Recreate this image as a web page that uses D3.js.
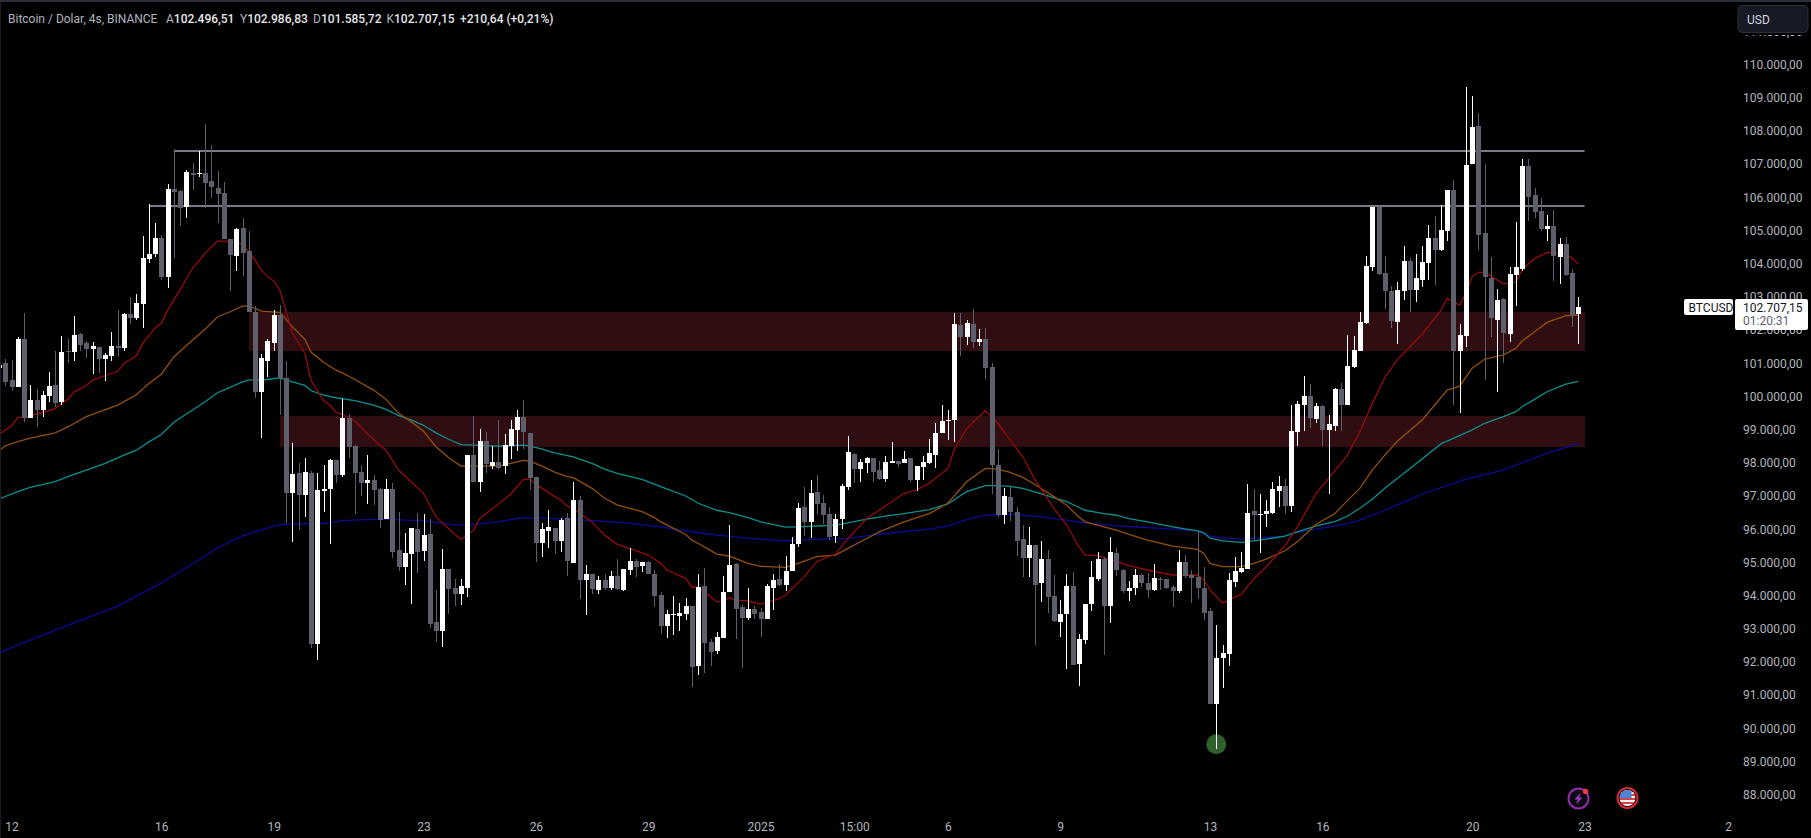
<!DOCTYPE html>
<html>
<head>
<meta charset="utf-8">
<title>BTCUSD 4s</title>
<script src="https://cdnjs.cloudflare.com/ajax/libs/d3/7.8.5/d3.min.js"></script>
<style>
  html, body { margin: 0; padding: 0; background: #000; overflow: hidden; }
  svg { display: block; font-family: Roboto, sans-serif; }
</style>
</head>
<body>
<div id="chart"></div>
<script>
// candle values, USD thousands, 4h bars
let opens = [
  100.85,101.00,100.49,100.28,101.73,99.35,99.89,99.59,100.01,100.34,
  99.83,101.36,101.33,101.88,101.60,101.42,101.48,101.12,101.21,101.51,
  101.45,102.48,102.36,102.79,104.14,104.29,104.77,103.60,106.25,106.19,
  105.71,106.73,106.70,106.73,106.49,106.28,106.13,104.74,104.23,105.07,
  104.38,102.54,100.13,101.06,101.60,102.45,100.55,97.09,97.69,97.03,
  97.69,92.54,97.15,97.21,98.08,97.63,99.35,98.50,97.72,97.39,
  97.48,97.21,96.30,97.21,95.37,94.86,95.25,96.00,95.34,95.85,
  93.20,92.93,94.80,94.23,94.04,94.23,98.23,97.42,98.65,97.90,
  98.02,97.90,98.50,98.98,99.38,98.89,97.57,95.58,95.94,96.03,
  95.64,96.33,94.98,96.88,94.47,94.65,94.17,94.47,94.23,94.59,
  94.17,94.77,95.04,94.89,95.01,94.65,94.01,93.08,93.41,93.38,
  93.44,93.68,91.88,94.29,92.60,92.33,92.72,94.10,94.95,93.65,
  93.32,93.59,93.50,93.29,94.23,94.50,94.32,94.74,95.55,96.66,
  96.21,97.12,96.79,96.45,95.79,96.30,97.27,98.26,97.81,97.99,
  98.14,97.78,97.51,97.99,98.05,97.99,98.14,97.48,97.87,97.99,
  98.23,98.89,99.26,99.29,102.15,101.79,102.18,101.64,101.73,100.88,
  97.93,96.42,96.97,96.51,95.70,95.13,95.52,94.38,95.10,93.98,
  93.20,93.44,94.29,91.94,92.66,93.74,94.50,95.10,93.68,95.28,
  94.77,94.13,94.23,94.62,94.38,94.17,94.50,94.50,94.26,94.13,
  95.01,94.62,94.56,94.23,93.53,90.73,92.12,92.24,94.41,94.71,
  94.80,96.54,96.42,96.45,96.48,97.15,97.30,96.70,98.92,99.74,
  100.01,99.32,99.71,98.98,99.10,100.22,99.74,100.88,101.36,102.21,
  103.90,105.70,103.72,103.17,102.24,103.17,104.08,103.20,103.51,104.02,
  104.77,104.41,104.98,106.22,101.37,101.82,107.00,108.14,104.92,103.57,
  102.30,102.93,101.88,103.66,103.84,106.94,106.07,105.58,105.04,105.13,
  104.20,104.59,103.72,102.4965
];
let closes = [
  100.94,100.43,100.28,101.73,99.36,99.89,99.59,100.04,100.31,99.80,
  101.33,101.33,101.85,101.54,101.42,101.51,101.12,101.24,101.51,101.45,
  102.48,102.36,102.82,104.17,104.29,104.77,103.60,106.25,106.16,105.68,
  106.76,106.67,106.73,106.43,106.31,106.10,104.74,104.26,105.04,104.32,
  102.54,100.13,101.15,101.67,102.45,100.55,97.09,97.66,97.03,97.72,
  92.54,97.18,97.21,98.08,97.63,99.35,98.47,97.69,97.39,97.48,
  97.18,96.27,97.21,95.31,94.86,95.28,96.03,95.31,95.82,93.14,
  92.93,94.80,94.20,94.04,94.29,98.23,97.42,98.65,97.96,98.02,
  97.84,98.53,99.01,99.38,98.92,97.54,95.58,96.00,96.06,95.64,
  96.27,95.04,96.88,94.47,94.65,94.20,94.47,94.23,94.59,94.20,
  94.80,95.04,94.86,95.01,94.65,93.98,93.08,93.44,93.44,93.47,
  93.68,91.85,94.26,92.57,92.30,92.75,94.10,94.92,93.59,93.32,
  93.59,93.44,93.29,94.29,94.47,94.32,94.74,95.55,96.63,96.21,
  97.09,96.76,96.42,95.76,96.30,97.30,98.32,97.81,98.02,98.14,
  97.72,97.51,98.02,98.05,97.96,98.11,97.48,97.90,98.02,98.29,
  98.89,99.26,99.29,102.18,101.79,102.21,101.64,101.73,100.85,97.93,
  96.42,97.00,96.51,95.64,95.13,95.52,94.32,95.10,93.95,93.23,
  93.44,94.29,91.91,92.69,93.74,94.56,95.10,93.68,95.31,94.77,
  94.13,94.23,94.62,94.38,94.17,94.53,94.47,94.23,94.13,95.01,
  94.59,94.53,94.23,93.47,90.73,92.12,92.27,94.47,94.74,94.83,
  96.48,96.42,96.45,96.54,97.21,97.30,96.70,98.95,99.77,100.01,
  99.35,99.71,98.98,99.17,100.22,99.74,100.91,101.39,102.24,103.93,
  105.70,103.69,103.17,102.27,103.20,104.08,103.20,103.57,104.05,104.77,
  104.41,105.01,106.22,101.37,101.85,106.97,108.11,104.86,103.60,102.36,
  102.90,101.91,103.69,103.90,106.94,106.01,105.55,105.04,105.13,104.23,
  104.59,103.66,102.45,102.7072
];
let highs = [
  100.94,101.14,101.09,101.78,102.51,100.34,100.22,100.16,100.73,101.36,
  101.82,101.73,102.42,101.91,101.67,101.63,101.48,101.30,101.94,102.60,
  102.50,103.00,103.09,104.83,105.80,105.22,104.86,106.40,107.45,106.22,
  106.82,107.03,107.39,108.21,107.57,106.79,106.46,104.74,105.07,105.37,
  104.98,102.72,101.27,101.73,102.60,102.75,101.06,98.59,97.99,98.14,
  97.75,97.69,97.93,98.11,98.08,99.92,99.47,98.53,97.93,98.23,
  97.63,97.24,97.51,97.39,96.51,95.88,96.03,96.48,96.45,96.30,
  94.17,95.40,94.80,94.50,94.50,98.23,99.41,99.01,98.92,98.50,
  99.29,98.86,99.29,99.59,99.89,98.89,97.57,96.18,96.57,96.03,
  96.33,96.48,97.42,97.00,94.92,94.65,94.59,94.65,94.74,95.10,
  94.80,95.43,95.10,95.01,95.04,94.77,94.10,93.56,93.98,93.77,
  93.92,93.68,94.65,94.83,92.69,92.90,94.59,96.12,94.98,93.74,
  94.23,93.68,93.62,94.35,94.65,94.95,95.19,95.76,96.79,97.27,
  97.48,97.63,97.03,96.67,96.45,97.36,98.80,98.29,98.11,98.17,
  98.14,98.05,98.20,98.62,98.05,98.35,98.14,97.90,98.20,98.71,
  99.20,99.74,99.59,102.51,102.51,102.30,102.63,102.03,102.06,101.00,
  98.41,97.24,97.27,96.67,96.12,96.06,95.52,95.64,95.37,94.62,
  93.86,94.65,94.71,92.84,93.74,95.04,95.31,95.16,95.76,95.43,
  94.80,94.44,94.80,94.65,94.68,94.95,94.56,94.50,94.32,95.37,
  95.22,94.77,95.91,94.86,93.62,93.11,92.51,94.68,95.16,95.31,
  97.36,97.21,97.06,96.88,97.42,97.60,97.51,99.74,99.86,100.61,
  100.37,99.80,99.74,99.44,100.25,100.40,101.85,101.82,102.54,104.23,
  105.70,105.73,104.23,103.33,103.45,104.53,104.17,104.29,104.53,105.16,
  105.43,105.77,106.22,106.52,102.18,109.32,109.05,108.54,107.00,104.20,
  103.23,102.96,103.90,105.25,107.15,107.15,106.28,105.98,105.46,105.61,
  104.77,104.80,103.84,102.9868
];
let lows = [
  100.85,100.31,100.16,100.28,99.23,99.35,99.07,99.38,99.83,99.68,
  99.74,101.00,101.06,101.36,101.15,100.67,100.70,100.46,101.06,101.18,
  101.38,102.18,102.30,102.06,104.02,104.20,103.51,103.27,104.17,105.13,
  105.38,106.22,106.61,105.68,105.98,105.23,104.74,103.18,103.78,103.63,
  102.54,99.95,98.74,100.58,101.36,99.44,96.18,95.61,95.97,96.36,
  92.42,92.06,96.51,95.55,97.39,97.57,98.14,96.45,97.00,96.76,
  96.73,96.03,96.30,95.13,94.74,94.32,93.74,94.68,95.04,93.02,
  92.60,92.45,93.44,93.68,93.71,93.95,97.42,97.12,97.69,97.81,
  97.81,97.66,98.11,98.35,98.41,97.18,95.01,95.16,95.43,95.25,
  95.31,94.59,94.98,93.89,93.41,94.04,94.04,94.17,94.17,94.17,
  94.14,94.62,94.56,94.71,94.65,93.65,92.84,92.72,92.81,92.93,
  93.26,91.24,91.61,91.67,91.88,92.24,92.72,94.10,92.69,91.82,
  93.26,93.29,92.75,93.29,93.56,94.29,94.13,94.74,95.46,95.79,
  95.73,96.45,96.15,95.67,95.58,96.00,97.18,97.39,97.42,97.69,
  97.42,97.48,97.42,97.99,97.87,97.99,97.42,97.15,97.48,97.96,
  97.84,98.89,98.68,98.62,101.21,101.54,101.45,101.51,100.52,97.06,
  96.36,96.15,96.24,95.19,94.56,94.56,92.51,93.80,93.47,93.20,
  92.75,91.79,91.91,91.27,92.54,93.53,94.44,92.21,93.17,94.59,
  94.07,93.83,94.01,94.26,93.92,94.14,94.17,94.20,93.65,94.07,
  94.53,93.77,93.89,93.26,90.73,89.38,91.21,91.88,94.26,94.68,
  94.80,95.67,95.28,96.06,96.45,96.67,96.45,96.51,98.50,98.95,
  99.04,99.20,98.50,97.06,98.95,98.95,99.74,100.85,101.36,102.18,
  103.78,103.66,102.63,102.06,101.58,102.90,102.54,102.84,103.30,103.51,
  103.36,104.38,104.68,99.74,99.50,101.49,107.00,104.41,100.49,101.79,
  100.13,101.01,101.64,102.72,103.78,105.28,105.37,104.98,104.68,103.48,
  103.39,103.62,102.09,101.5857
];

// moving averages as [bar index, price]
let maRed = [[0,98.86],[2,99.11],[3,99.37],[4,99.37],[6,99.47],[9,99.63],[10,99.79],[11,99.91],[12,100.13],[14,100.33],[15,100.49],[17,100.63],[19,100.75],[20,100.99],[22,101.22],[23,101.59],[25,102.07],[26,102.20],[27,102.60],[29,103.21],[31,103.86],[33,104.31],[35,104.68],[37,104.68],[39,104.59],[41,104.11],[42,103.81],[43,103.61],[44,103.48],[45,103.19],[46,102.55],[47,101.90],[49,101.30],[50,100.47],[52,99.87],[53,99.74],[54,99.51],[55,99.47],[57,99.26],[59,98.88],[61,98.53],[62,98.38],[64,97.78],[66,97.43],[68,97.08],[70,96.37],[73,95.85],[74,95.69],[76,95.97],[77,96.32],[80,96.76],[82,97.06],[84,97.50],[85,97.50],[87,97.23],[89,96.98],[90,96.88],[91,96.70],[92,96.62],[95,96.22],[97,95.82],[99,95.55],[101,95.42],[104,95.22],[106,94.97],[107,94.77],[110,94.52],[111,94.25],[112,94.25],[115,93.81],[116,93.83],[117,93.94],[118,93.86],[120,93.84],[122,93.74],[125,93.91],[126,94.01],[129,94.57],[131,95.02],[134,95.25],[136,95.72],[139,96.32],[141,96.57],[145,97.08],[147,97.18],[149,97.38],[152,97.83],[153,98.38],[155,99.03],[158,99.57],[160,99.19],[161,98.93],[164,98.18],[166,97.48],[169,96.62],[171,96.14],[173,95.47],[174,95.22],[176,95.20],[179,95.02],[181,94.90],[184,94.77],[188,94.62],[192,94.62],[193,94.47],[194,94.17],[196,93.78],[199,94.04],[201,94.50],[203,94.87],[206,95.50],[208,96.07],[211,97.08],[213,97.53],[216,98.23],[218,98.93],[220,99.79],[222,100.57],[224,101.11],[225,101.30],[228,101.88],[231,102.60],[232,102.95],[234,102.75],[235,103.10],[236,103.61],[237,103.74],[238,103.74],[240,103.51],[241,103.39],[243,103.44],[244,103.81],[246,104.16],[248,104.33],[249,104.33],[251,104.29],[252,104.16],[253,103.99]];
let maOrange = [[0,98.36],[1,98.51],[3,98.64],[5,98.74],[9,98.90],[11,99.08],[14,99.39],[19,99.74],[22,100.05],[24,100.39],[26,100.67],[28,101.19],[31,101.70],[33,102.02],[35,102.40],[37,102.55],[39,102.72],[40,102.73],[42,102.57],[45,102.53],[47,102.10],[49,101.72],[50,101.33],[52,101.03],[54,100.79],[55,100.71],[57,100.51],[60,100.19],[62,99.91],[64,99.49],[66,99.24],[68,98.95],[70,98.48],[72,98.16],[74,97.90],[76,97.90],[80,97.90],[82,97.98],[84,98.07],[85,98.05],[87,97.90],[89,97.72],[91,97.58],[92,97.55],[95,97.23],[97,96.93],[99,96.73],[103,96.53],[105,96.35],[106,96.22],[110,95.84],[111,95.67],[112,95.57],[115,95.25],[117,95.19],[120,94.97],[122,94.88],[126,94.85],[128,94.97],[131,95.17],[134,95.22],[136,95.42],[139,95.72],[141,95.92],[145,96.22],[149,96.47],[152,96.78],[155,97.43],[158,97.83],[160,97.81],[162,97.71],[164,97.56],[166,97.34],[169,96.98],[171,96.73],[173,96.37],[174,96.22],[177,96.07],[179,95.97],[181,95.84],[184,95.67],[188,95.49],[192,95.39],[193,95.27],[194,94.97],[196,94.87],[199,94.87],[201,94.97],[203,95.10],[206,95.35],[208,95.62],[211,96.15],[214,96.47],[216,96.86],[218,97.23],[220,97.78],[222,98.23],[224,98.65],[228,99.29],[232,100.19],[234,100.31],[236,100.85],[238,101.12],[241,101.25],[243,101.45],[244,101.67],[246,101.95],[248,102.23],[251,102.43],[253,102.45]];
let maTeal = [[0,96.91],[3,97.13],[5,97.26],[9,97.43],[11,97.58],[14,97.78],[17,97.98],[20,98.23],[22,98.38],[24,98.63],[26,98.85],[28,99.22],[31,99.59],[33,99.84],[35,100.11],[37,100.27],[39,100.44],[40,100.49],[43,100.51],[45,100.56],[47,100.44],[49,100.33],[50,100.17],[52,100.04],[54,99.96],[57,99.87],[60,99.74],[62,99.61],[64,99.42],[66,99.29],[68,99.13],[70,98.90],[72,98.71],[74,98.55],[76,98.53],[80,98.50],[84,98.53],[85,98.51],[87,98.41],[89,98.30],[92,98.18],[95,97.98],[97,97.81],[99,97.68],[103,97.50],[106,97.28],[110,97.00],[112,96.78],[115,96.57],[117,96.50],[120,96.35],[122,96.22],[126,96.06],[128,96.07],[133,96.11],[135,96.15],[139,96.30],[142,96.39],[145,96.47],[149,96.59],[152,96.76],[155,97.13],[158,97.31],[160,97.31],[162,97.29],[164,97.23],[167,97.06],[171,96.83],[173,96.66],[174,96.57],[177,96.47],[179,96.42],[181,96.32],[184,96.22],[188,96.07],[192,95.95],[193,95.89],[194,95.73],[196,95.65],[199,95.60],[201,95.65],[203,95.70],[206,95.79],[208,95.92],[211,96.10],[214,96.23],[216,96.39],[218,96.63],[220,96.90],[222,97.23],[224,97.53],[231,98.57],[236,98.99],[238,99.19],[241,99.39],[243,99.54],[244,99.69],[246,99.91],[248,100.14],[251,100.37],[253,100.45]];
let maBlue = [[0,92.28],[9,92.96],[19,93.68],[26,94.38],[32,95.07],[35,95.44],[39,95.80],[41,95.92],[44,96.09],[45,96.14],[49,96.17],[52,96.17],[55,96.26],[59,96.29],[62,96.30],[65,96.27],[68,96.26],[70,96.20],[73,96.13],[76,96.14],[80,96.23],[84,96.35],[87,96.33],[92,96.29],[95,96.26],[99,96.21],[103,96.14],[106,96.07],[110,95.95],[112,95.90],[115,95.82],[120,95.73],[126,95.65],[131,95.69],[136,95.72],[142,95.87],[149,96.00],[152,96.09],[155,96.29],[158,96.42],[162,96.45],[167,96.37],[171,96.27],[174,96.19],[179,96.10],[184,96.05],[188,96.00],[192,95.95],[194,95.79],[196,95.73],[199,95.71],[203,95.75],[206,95.79],[208,95.91],[211,96.00],[214,96.10],[216,96.17],[218,96.27],[222,96.57],[224,96.73],[228,97.06],[235,97.51],[241,97.78],[248,98.29],[253,98.58]];

// drawn levels: [first bar, price] and zones: [first bar, top price, bottom price]
let levelLines = [[28,107.39],[24,105.74]];
let zones = [[40,102.54,101.37],[45,99.41,98.47]];
let levelEndBar = 254;

let priceTicks = d3.range(88, 112);
let timeTickBars = [2,26,44,68,86,104,122,137,152,170,194,212,236,254,277];
let timeTickLabels = ['12','16','19','23','26','29','2025','15:00','6','9','13','16','20','23','2'];

let markerBar = 195;
let markerPrice = 89.52;

// header texts
let headerTitle = 'Bitcoin / Dolar, 4s, BINANCE';
let headerValues = [['A','102.496,51'],['Y','102.986,83'],['D','101.585,72'],['K','102.707,15']];
let headerChange = '+210,64 (+0,21%)';

// svg setup
let svgWidth = 1811;
let svgHeight = 838;

let svg = d3.select('#chart').append('svg')
  .attr('width', svgWidth)
  .attr('height', svgHeight);

svg.append('rect').attr('width', svgWidth).attr('height', svgHeight).attr('fill', '#000');

// scales, calibrated on tick labels and first/last candle
let x = d3.scaleLinear().domain([0, 253]).range([-0.94, 1578.3]);
let y = d3.scaleLinear().domain([88, 110]).range([794.7, 64.5]);

let colorUp = '#ffffff';
let colorDown = '#5d606b';
let labelColor = '#b2b5be';

let candles = opens.map((o, i) => ({ i: i, o: o, h: highs[i], l: lows[i], c: closes[i] }));

// zones
svg.append('g').selectAll('rect')
  .data(zones)
  .enter()
  .append('rect')
  .attr('x', d => Math.round(x(d[0])))
  .attr('y', d => Math.round(y(d[1])))
  .attr('width', d => Math.round(x(levelEndBar)) - Math.round(x(d[0])))
  .attr('height', d => Math.round(y(d[2])) - Math.round(y(d[1])))
  .attr('fill', '#300d10');

// moving averages
let maLine = d3.line().x(d => x(d[0])).y(d => y(d[1]));
let maSeries = [
  { data: maBlue, color: '#0b0b96' },
  { data: maTeal, color: '#0c8f8f' },
  { data: maOrange, color: '#94500c' },
  { data: maRed, color: '#940c0c' }
];
svg.append('g').selectAll('path')
  .data(maSeries)
  .enter()
  .append('path')
  .attr('d', d => maLine(d.data))
  .attr('fill', 'none')
  .attr('stroke', d => d.color)
  .attr('stroke-width', 1.3);

// horizontal levels
svg.append('g').selectAll('line')
  .data(levelLines)
  .enter()
  .append('line')
  .attr('x1', d => x(d[0]))
  .attr('x2', x(levelEndBar))
  .attr('y1', d => Math.round(y(d[1])))
  .attr('y2', d => Math.round(y(d[1])))
  .attr('stroke', '#787b86')
  .attr('stroke-width', 2);

// green marker under the low wick
svg.append('circle')
  .attr('cx', x(markerBar))
  .attr('cy', y(markerPrice))
  .attr('r', 10)
  .attr('fill', '#2f5f2c');

// candles
let candleGroup = svg.append('g').attr('shape-rendering', 'crispEdges');

candleGroup.selectAll('rect.wick')
  .data(candles)
  .enter()
  .append('rect')
  .classed('wick', true)
  .attr('x', d => Math.round(x(d.i)))
  .attr('y', d => Math.round(y(d.h)))
  .attr('width', 1)
  .attr('height', d => Math.max(1, Math.round(y(d.l)) - Math.round(y(d.h))))
  .attr('fill', d => d.c >= d.o ? colorUp : colorDown);

candleGroup.selectAll('rect.body')
  .data(candles)
  .enter()
  .append('rect')
  .classed('body', true)
  .attr('x', d => Math.round(x(d.i)) - 2)
  .attr('y', d => Math.round(y(Math.max(d.o, d.c))))
  .attr('width', 5)
  .attr('height', d => Math.max(1, Math.round(y(Math.min(d.o, d.c))) - Math.round(y(Math.max(d.o, d.c)))))
  .attr('fill', d => d.c >= d.o ? colorUp : colorDown);

// frame edges
svg.append('rect').attr('width', svgWidth).attr('height', 2).attr('fill', '#2a2e39');
svg.append('rect').attr('y', 2).attr('width', 1).attr('height', svgHeight).attr('fill', '#1c1e26');

// price axis
let priceLocale = d3.formatLocale({ decimal: ',', thousands: '.', grouping: [3], currency: ['', ''] });
let priceFormat = priceLocale.format(',.2f');

let rightAxis = d3.axisRight(y)
  .tickValues(priceTicks)
  .tickSize(0)
  .tickPadding(0)
  .tickFormat(d => priceFormat(d * 1000));

let yAxis = svg.append('g')
  .attr('transform', 'translate(1743, 0)')
  .call(rightAxis);

yAxis.select('.domain').remove();
yAxis.selectAll('text')
  .attr('fill', labelColor)
  .style('font-size', '12px')
  .style('font-family', 'Roboto, sans-serif');

// time axis
let bottomAxis = d3.axisBottom(x)
  .tickValues(timeTickBars)
  .tickSize(0)
  .tickPadding(0)
  .tickFormat((d, i) => timeTickLabels[i]);

let xAxis = svg.append('g')
  .attr('transform', 'translate(0, 822)')
  .call(bottomAxis);

xAxis.select('.domain').remove();
xAxis.selectAll('text')
  .attr('fill', labelColor)
  .style('font-size', '12px')
  .style('font-family', 'Roboto, sans-serif');

// legend at the top
let header = svg.append('text')
  .attr('x', 8)
  .attr('y', 23)
  .style('font-size', '12px')
  .attr('fill', labelColor)
  .attr('xml:space', 'preserve');

header.append('tspan').text(headerTitle);

let headerStops = [166, 240, 313, 386.5];
headerValues.forEach(function (d, i) {
  header.append('tspan').attr('x', headerStops[i]).text(d[0]);
  header.append('tspan').attr('fill', '#e6e7ea').style('font-weight', 500).text(d[1]);
});
header.append('tspan').attr('x', 460).attr('fill', '#e6e7ea').style('font-weight', 500).text(headerChange);

// USD button, sits above the clipped 111.000 tick
svg.append('rect').attr('x', 1737).attr('y', 2).attr('width', 74).attr('height', 33).attr('fill', '#000');
svg.append('rect')
  .attr('x', 1738)
  .attr('y', 5.5)
  .attr('width', 70)
  .attr('height', 27)
  .attr('rx', 4)
  .attr('fill', '#161a25')
  .attr('stroke', '#2a2e39');
svg.append('text')
  .attr('x', 1747)
  .attr('y', 24)
  .style('font-size', '12px')
  .attr('fill', '#d1d4dc')
  .text('USD');

// last price tag
svg.append('rect').attr('x', 1684).attr('y', 299).attr('width', 49).attr('height', 16).attr('rx', 2).attr('fill', '#fff');
svg.append('text').attr('x', 1688.5).attr('y', 311.5).style('font-size', '12px').attr('fill', '#131722').text('BTCUSD');
svg.append('rect').attr('x', 1735).attr('y', 299).attr('width', 73).attr('height', 31).attr('rx', 2).attr('fill', '#fff');
svg.append('text').attr('x', 1743).attr('y', 311.5).style('font-size', '12px').attr('fill', '#131722').text('102.707,15');
svg.append('text').attr('x', 1743).attr('y', 325).style('font-size', '12px').attr('fill', '#5d606b').text('01:20:31');

// bottom icons
let bolt = svg.append('g').attr('transform', 'translate(1578.5, 798.5)');
bolt.append('circle').attr('r', 10).attr('fill', '#0b0b12').attr('stroke', '#8e2ea8').attr('stroke-width', 2);
bolt.append('path').attr('d', 'M2.5 -6 L-4 1 L-0.5 1 L-2.5 6 L4 -1 L0.5 -1 Z').attr('fill', '#a63ad0');
bolt.append('circle').attr('cx', 7).attr('cy', -7).attr('r', 2.7).attr('fill', '#f23645');

let flag = svg.append('g').attr('transform', 'translate(1627.5, 798)');
svg.append('clipPath').attr('id', 'flagClip').append('circle').attr('r', 8);
flag.append('circle').attr('r', 10).attr('fill', '#000').attr('stroke', '#d92a33').attr('stroke-width', 2);
let flagInner = flag.append('g').attr('clip-path', 'url(#flagClip)');
flagInner.append('rect').attr('x', -8).attr('y', -8).attr('width', 16).attr('height', 16).attr('fill', '#f3f3f3');
[-5, -1, 3].forEach(function (s) {
  flagInner.append('rect').attr('x', -8).attr('y', s + 1).attr('width', 16).attr('height', 2).attr('fill', '#d8404a');
});
flagInner.append('rect').attr('x', -8).attr('y', -8).attr('width', 12).attr('height', 8).attr('fill', '#4a86d8');
</script>
</body>
</html>
